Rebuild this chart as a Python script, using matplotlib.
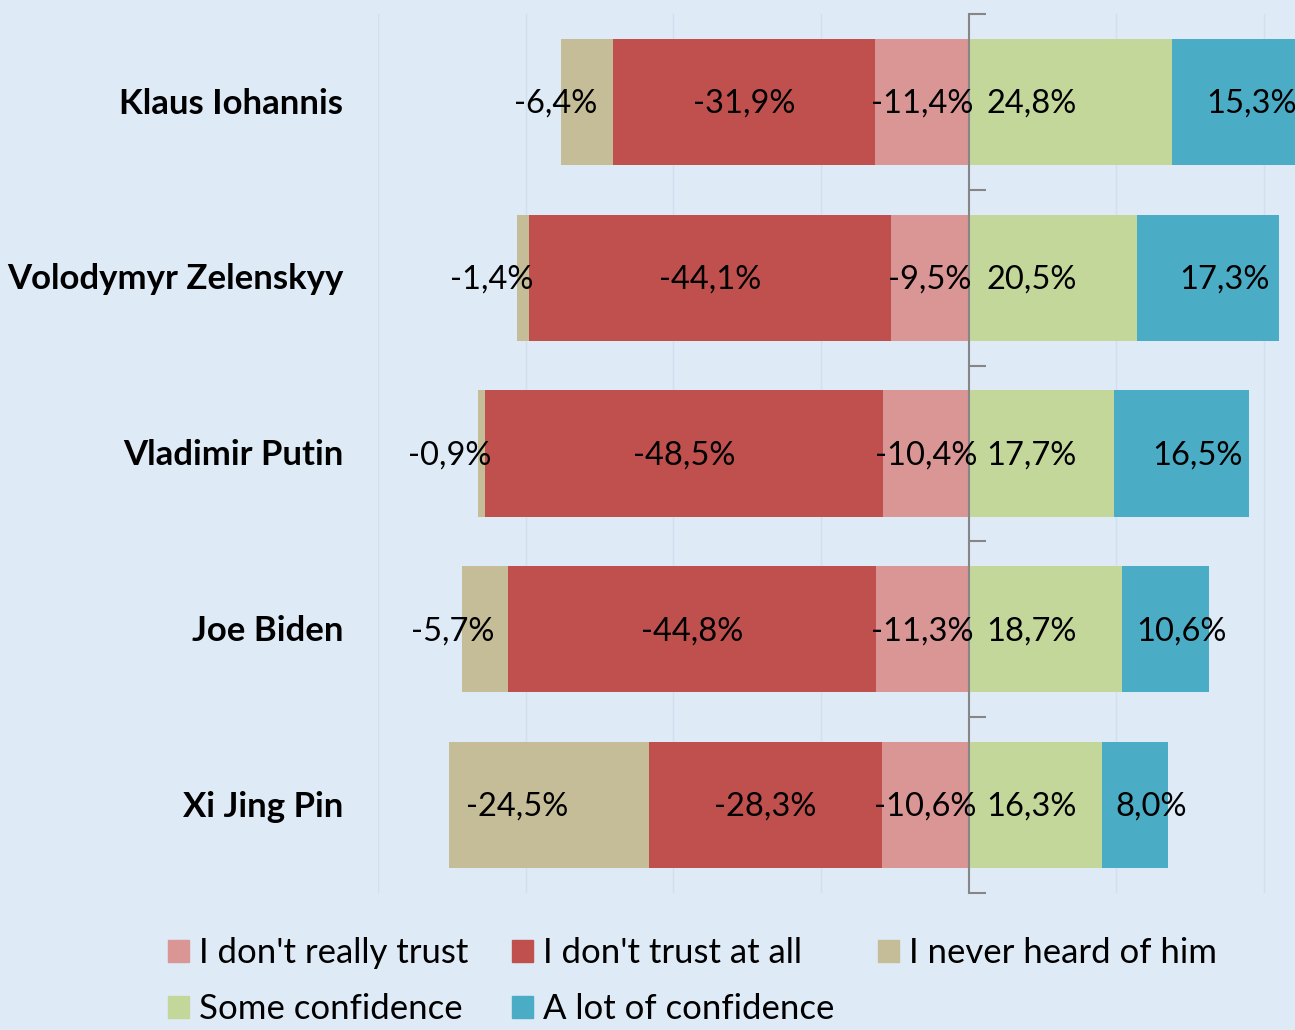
import matplotlib
matplotlib.use("Agg")
import matplotlib.pyplot as plt
from matplotlib.patches import Patch

plt.rcParams["font.family"] = ["Lato", "DejaVu Sans"]

# ---- data ---------------------------------------------------------------------------
leaders = ["Klaus Iohannis", "Volodymyr Zelenskyy", "Vladimir Putin", "Joe Biden", "Xi Jing Pin"]
not_really = [-11.4, -9.5, -10.4, -11.3, -10.6]     # I don't really trust
not_at_all = [-31.9, -44.1, -48.5, -44.8, -28.3]    # I don't trust at all
never_heard = [-6.4, -1.4, -0.9, -5.7, -24.5]       # I never heard of him
some_conf = [24.8, 20.5, 17.7, 18.7, 16.3]          # Some confidence
lot_conf = [15.3, 17.3, 16.5, 10.6, 8.0]            # A lot of confidence

PINK, RED, TAN, GREEN, TEAL = "#da9694", "#c0504d", "#c4bd97", "#c4d79b", "#4bacc6"
BG = "#deeaf6"

fmt = lambda v: f"{v:.1f}%".replace(".", ",")

fig = plt.figure(figsize=(12.95, 10.30), dpi=100, facecolor=BG)
ax = fig.add_axes([378 / 1295, 137 / 1030, 917 / 1295, 879 / 1030], facecolor=BG)

ys = list(range(len(leaders)))
h = 0.717
left2 = not_really
left3 = [a + b for a, b in zip(not_really, not_at_all)]
ax.barh(ys, not_really, h, color=PINK, zorder=2)
ax.barh(ys, not_at_all, h, left=left2, color=RED, zorder=2)
ax.barh(ys, never_heard, h, left=left3, color=TAN, zorder=2)
ax.barh(ys, some_conf, h, color=GREEN, zorder=2)
ax.barh(ys, lot_conf, h, left=some_conf, color=TEAL, zorder=2)

fs = 23.5   # data labels
fc = 25     # category + legend text
for i, y in enumerate(ys):
    yl = y + 0.01
    ax.text(not_really[i] / 2, yl, fmt(not_really[i]), ha="center", va="center", fontsize=fs, zorder=4)
    ax.text(left2[i] + not_at_all[i] / 2, yl, fmt(not_at_all[i]), ha="center", va="center", fontsize=fs, zorder=4)
    ax.text(left3[i] + never_heard[i] / 2 - 3.9, yl, fmt(never_heard[i]), ha="center", va="center", fontsize=fs, zorder=4)
    ax.text(2.2, yl, fmt(some_conf[i]), ha="left", va="center", fontsize=fs, zorder=4)
    ax.text(some_conf[i] + lot_conf[i] / 2 + 2.0, yl, fmt(lot_conf[i]), ha="center", va="center", fontsize=fs, zorder=4)
    ax.text(-0.038, yl, leaders[i], transform=ax.get_yaxis_transform(), ha="right", va="center",
            fontsize=fc, fontweight="bold")

ax.set_xlim(-72, 39.8)
ax.set_ylim(len(leaders) - 0.5, -0.5)
ax.set_xticks([-72, -54, -36, -18, 18, 36])
ax.tick_params(axis="x", length=0, labelbottom=False)
ax.grid(axis="x", color="#d3dfec", lw=1, zorder=0)

for s in ("top", "right", "bottom"):
    ax.spines[s].set_visible(False)
ax.spines["left"].set_position(("data", 0))
ax.spines["left"].set_color("#868686")
ax.spines["left"].set_linewidth(1.5)
ax.spines["left"].set_zorder(3)
ax.set_yticks([])
ax.set_yticks([i - 0.5 for i in range(len(leaders) + 1)], minor=True)
ax.tick_params(axis="y", which="minor", direction="in", length=12, width=1.5, color="#868686")

# legend: column-major order so rows read pink/red/tan then green/teal
handles = [Patch(color=PINK, label="I don't really trust"),
           Patch(color=GREEN, label="Some confidence"),
           Patch(color=RED, label="I don't trust at all"),
           Patch(color=TEAL, label="A lot of confidence"),
           Patch(color=TAN, label="I never heard of him")]
fig.legend(handles=handles, ncol=3, loc="upper left", bbox_to_anchor=(168 / 1295, 1 - 937 / 1030),
           frameon=False, fontsize=fc, handlelength=0.6, handleheight=0.6, handletextpad=0.3,
           columnspacing=1.25, labelspacing=0.7, borderaxespad=0, borderpad=0)

fig.savefig("out.png", dpi=100, facecolor=BG)
